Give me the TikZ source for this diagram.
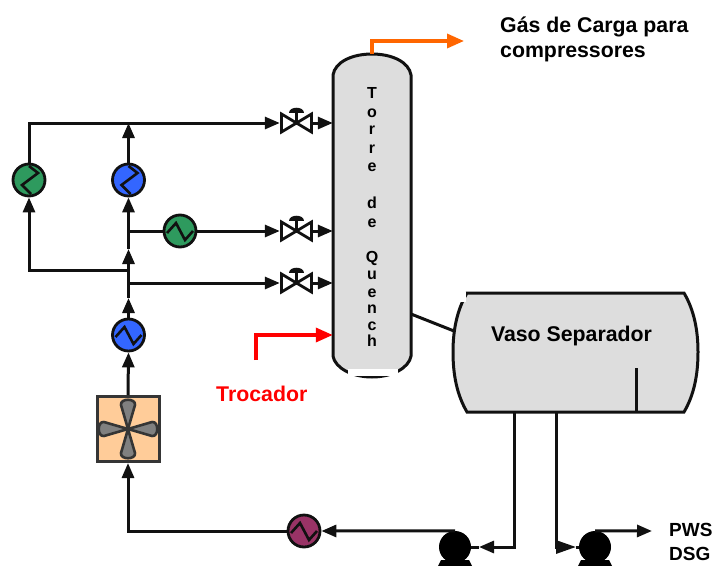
\documentclass[tikz,border=0pt]{standalone}
\usepackage{fontspec}
\setmainfont{Liberation Sans}
\usepackage{tikz}
\usetikzlibrary{arrows.meta,positioning,calc}
\definecolor{ink}{HTML}{111111}
\definecolor{shell}{HTML}{DDDDDD}
\definecolor{hxgreen}{HTML}{2E9A5E}
\definecolor{hxblue}{HTML}{3366FF}
\definecolor{hxpurple}{HTML}{993366}
\definecolor{fanbox}{HTML}{FFCC99}
\definecolor{fanblade}{HTML}{808080}
\definecolor{gasline}{HTML}{FF6600}
\tikzset{
  pics/valve/.style={code={
    \draw[line width=2.8pt,draw=ink,fill=white,line join=miter] (-15,-9)--(15,9)--(15,-9)--(-15,9)--cycle;
    \draw[line width=2.6pt,draw=ink] (0,0)--(0,-12);
    \fill[ink] (-7.5,-10) .. controls (-7.5,-17) and (7.5,-17) .. (7.5,-10)--cycle;
  }},
  pics/blade/.style={code={
    \draw[line width=2.6pt,draw=ink!85,fill=fanblade,line join=round] (0,0)--(-7,-24) .. controls (-8,-31) and (8,-31) .. (7,-24)--cycle;
  }}
}
\begin{document}
\begin{tikzpicture}[
  x=1pt,y=-1pt,
  every node/.style={font=\bfseries},
  pipe/.style={line width=3pt,draw=ink},
  flow/.style={pipe,-{Triangle[length=15pt,width=12pt]}},
  hx/.style={circle,draw=ink,line width=2.8pt,minimum size=32pt,inner sep=0pt},
  hxside/.style={hx,path picture={\draw[line width=2.6pt,draw=ink,shift={(path picture bounding box.center)}] (-13,2)--(-4,-8)--(5,9)--(13,0);}},
  hxup/.style={hx,path picture={\draw[line width=2.6pt,draw=ink,shift={(path picture bounding box.center)}] (0,-14)--(9,-7)--(-7,5)--(2,14);}},
  valvenode/.style={minimum width=33pt,minimum height=22pt,inner sep=0pt},
  pumpnode/.style={circle,fill=black,minimum size=32pt,inner sep=0pt},
  letter/.style={anchor=base,inner sep=0pt,font=\bfseries\fontsize{16}{16}\selectfont},
  label/.style={anchor=base west,inner sep=0pt,font=\bfseries\fontsize{21.3}{25}\selectfont},
  smalllabel/.style={anchor=base west,inner sep=0pt,font=\bfseries\fontsize{19}{19}\selectfont}
]
\useasboundingbox (0,0) rectangle (712,565);
% tower and separator outlines
\node[minimum width=78pt,minimum height=323pt,inner sep=0pt] (torre) at (372,215.5) {};
\node[minimum width=245pt,minimum height=119pt,inner sep=0pt] (vaso) at (575.5,352.5) {};
\draw[pipe,fill=shell] (333,75) .. controls (335,62) and (352,54) .. (372,54) .. controls (392,54) and (409,62) .. (411,75)
  --(411,356) .. controls (409,368) and (392,377) .. (372,377) .. controls (352,377) and (335,368) .. (333,356)--cycle;
\fill[white] (348,369) rectangle (398,375.5);
\draw[pipe,fill=shell] (467,293)--(684,293) .. controls (694,310) and (698,330) .. (698,352) .. controls (698,375) and (694,395) .. (684,412)
  --(467,412) .. controls (457,395) and (453,375) .. (453,352) .. controls (453,330) and (457,310) .. (467,293)--cycle;
\fill[white] (457,292) rectangle (466,302);
\coordinate (chicana) at (636,412);
\draw[pipe] (chicana)--(636,368);
\foreach \ch/\yy in {T/98,o/117,r/134,r/153,e/171,d/208,e/227,Q/262,u/279,e/297,n/313,c/330,h/346}
  \node[letter] (letra\yy) at (372,\yy) {\ch};
\node[anchor=base,inner sep=0pt,font=\bfseries\fontsize{21.3}{25}\selectfont] (vasotxt) at (571.5,341) {Vaso Separador};
% equipment
\node[hxup,fill=hxgreen] (hxverde) at (29,180) {};
\node[hxup,fill=hxblue] (hxazul) at (128.5,180) {};
\node[hxside,fill=hxgreen] (hxmeio) at (180,231) {};
\node[hxside,fill=hxblue] (hxbaixo) at (128.5,335) {};
\node[hxside,fill=hxpurple] (hxroxo) at (304,531) {};
\node[valvenode] (v1) at (296.5,123) {};
\node[valvenode] (v2) at (296.5,231) {};
\node[valvenode] (v3) at (296.5,283) {};
\foreach \vv in {v1,v2,v3}
  \pic at (\vv) {valve};
\node[draw=ink!85,line width=3pt,fill=fanbox,minimum width=62pt,minimum height=65pt,inner sep=0pt] (fan) at (128,429) {};
\foreach \ang in {0,90,180,270}
  \pic[rotate=\ang] at (fan) {blade};
\node[pumpnode] (bomba1) at (455,547) {};
\node[pumpnode] (bomba2) at (595,547) {};
\fill[black] (436,570)--(441,560)--(469,560)--(474,570)--cycle;
\fill[black] (576,570)--(581,560)--(609,560)--(614,570)--cycle;
% junctions
\coordinate (jtopo) at (128.5,123);
\coordinate (jmeio) at (128.5,231);
\coordinate (jseta) at (128.5,249);
\coordinate (jesq) at (128.5,270);
\coordinate (jbaixo) at (128.5,283);
\coordinate (jsobe) at (128.5,298);
\coordinate (dreno1) at (514,412);
\coordinate (dreno2) at (556,412);
\coordinate (ponta1) at (479,547);
\coordinate (ponta2) at (576,547);
\coordinate (saidapws) at (652,531);
\coordinate (gas) at (464,41);
\coordinate (trocador) at (256,360);
\coordinate (saidatorre) at (411,314);
\coordinate (entradavaso) at (454,331);
% connectors
\draw[flow] (hxverde.north) |- (v1.west);
\draw[flow] (hxazul.north)--(jtopo);
\draw[flow] (jsobe)--(jseta);
\draw[flow] (jseta)--(hxazul.south);
\draw[flow] (jesq)-|(hxverde.south);
\draw[pipe] (jmeio)--(hxmeio.west);
\draw[flow] (hxmeio.east)--(v2.west);
\draw[flow] (jbaixo)--(v3.west);
\draw[flow] (hxbaixo.north)--(jsobe);
\draw[flow] (fan.north)--(hxbaixo.south);
\draw[flow] (hxroxo.west)-|(fan.south);
\draw[flow] (v1.east)--(v1-|torre.west);
\draw[flow] (v2.east)--(v2-|torre.west);
\draw[flow] (v3.east)--(v3-|torre.west);
\draw[flow] (bomba1.north)--(hxroxo.east);
\draw[pipe] (bomba1.east)--(ponta1);
\draw[flow] (dreno1)|-(ponta1);
\draw[flow,-{Triangle[length=20pt,width=13pt]}] (dreno2)|-(ponta2);
\draw[pipe] (ponta2)--(bomba2.west);
\draw[flow] (bomba2.north)--(saidapws);
\draw[pipe] (saidatorre)--(entradavaso);
\draw[line width=3.4pt,draw=gasline,-{Triangle[length=17pt,width=14pt]}] (torre.north)|-(gas);
\draw[line width=3.4pt,draw=red,-{Triangle[length=17pt,width=14pt]}] (trocador)|-(torre.west|-0,335);
% labels
\node[label] (gastxt) at (500,32) {Gás de Carga para};
\node[label] (comptxt) at (500,57) {compressores};
\node[label,text=red] (troctxt) at (216,401) {Trocador};
\node[smalllabel] (pws) at (669,536) {PWS};
\node[smalllabel] (dsg) at (669,560) {DSG};
\end{tikzpicture}
\end{document}
